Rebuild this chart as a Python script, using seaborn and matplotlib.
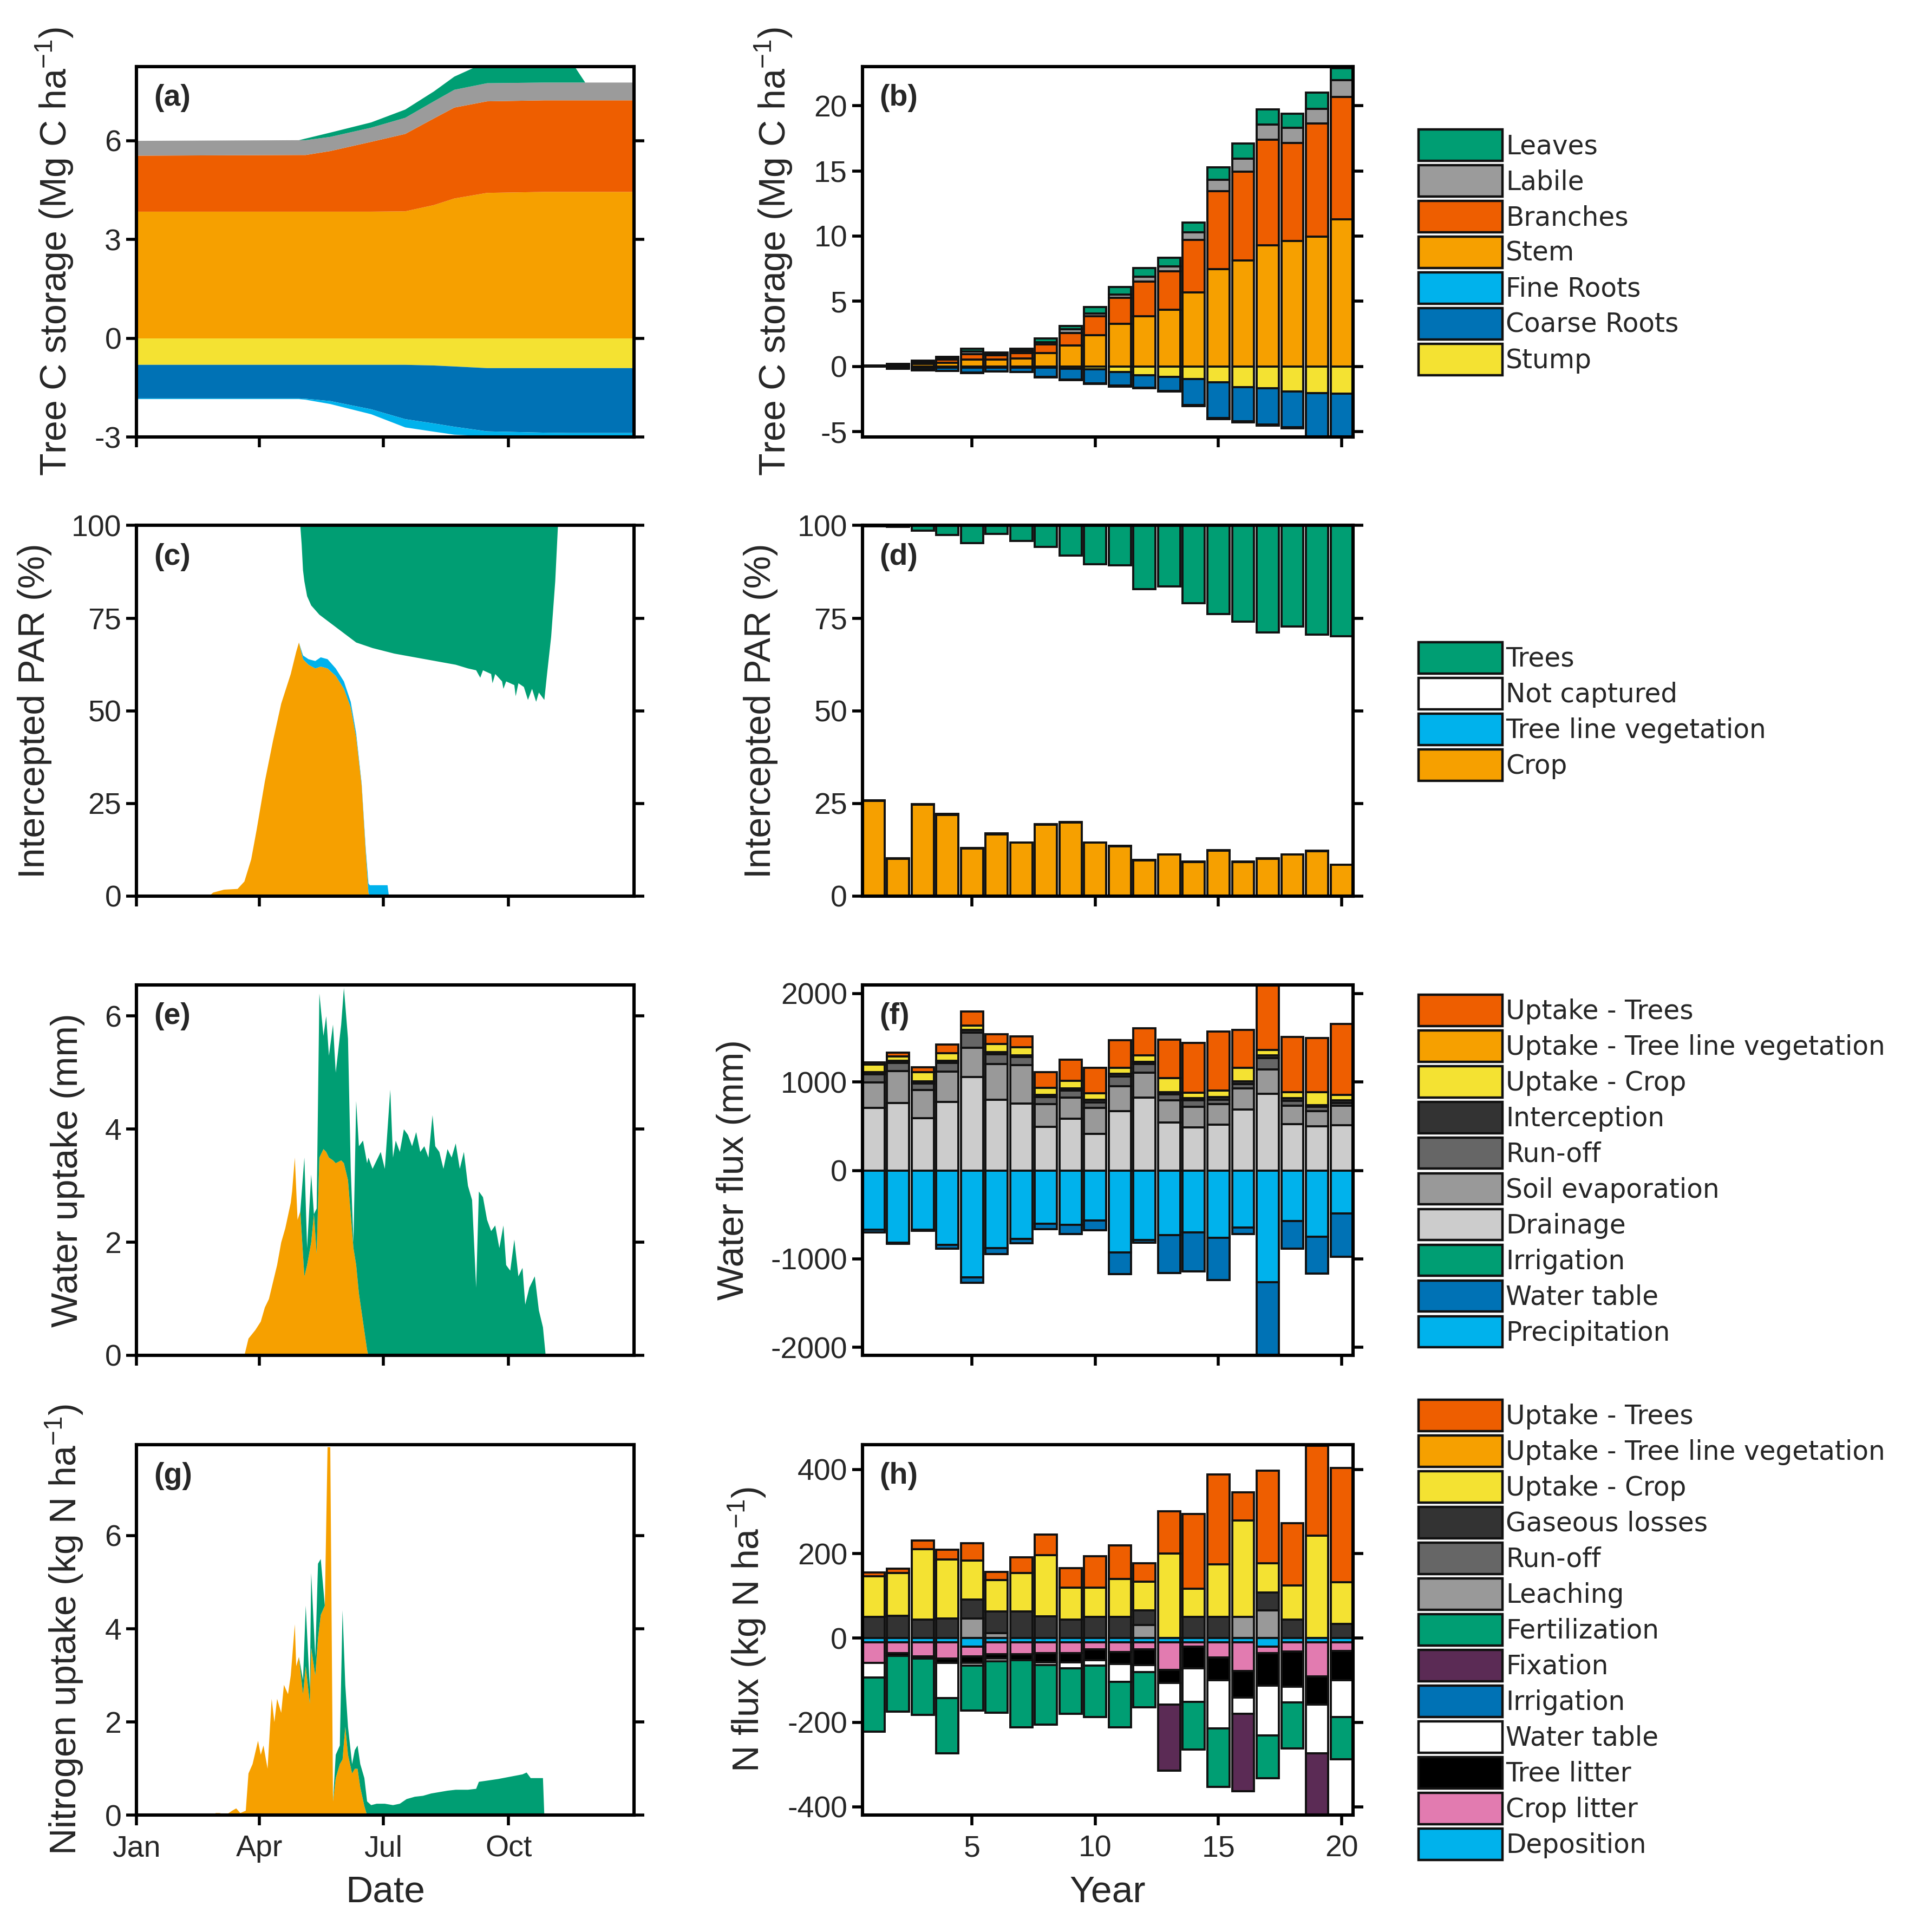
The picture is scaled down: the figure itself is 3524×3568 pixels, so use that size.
import numpy as np
import matplotlib
matplotlib.use('Agg')
import matplotlib.pyplot as plt
from matplotlib.patches import Patch
import seaborn as sns

# colours
GREEN = '#009E73'
LABILE = '#9B9B9B'
VERMIL = '#EE5E00'
ORANGE = '#F6A000'
SKY = '#00B2EC'
BLUE = '#0072B5'
YELLOW = '#F4E232'
DARK1 = '#333333'
DARK2 = '#666666'
MID = '#999999'
LIGHT = '#CCCCCC'
PURPLE = '#5B2B55'
PINK = '#E27BB0'
BLACK = '#000000'
WHITE = '#FFFFFF'
EDGE = '#111111'

# ---------------- (a) daily tree C pools (Mg C/ha)
a_days = [1, 120, 125, 143, 173, 198, 219, 234, 258, 300, 318, 330, 365]
a_stem = [3.85, 3.85, 3.85, 3.85, 3.85, 3.86, 4.05, 4.25, 4.42, 4.45, 4.45, 4.45, 4.45]
a_branches = [1.70, 1.72, 1.72, 1.84, 2.12, 2.35, 2.63, 2.76, 2.78, 2.78, 2.78, 2.78, 2.78]
a_labile = [0.45, 0.45, 0.45, 0.43, 0.43, 0.49, 0.52, 0.54, 0.55, 0.54, 0.54, 0.54, 0.54]
a_leaves = [0.0, 0.0, 0.05, 0.13, 0.16, 0.25, 0.30, 0.40, 0.65, 0.80, 0.75, 0.0, 0.0]
a_stump = [0.8, 0.8, 0.8, 0.8, 0.8, 0.8, 0.82, 0.85, 0.9, 0.9, 0.9, 0.9, 0.9]
a_coarse = [1.02, 1.02, 1.03, 1.10, 1.35, 1.65, 1.76, 1.83, 1.92, 1.96, 1.97, 1.97, 1.97]
a_fine = [0.02, 0.02, 0.03, 0.09, 0.15, 0.25, 0.25, 0.24, 0.15, 0.12, 0.12, 0.12, 0.13]

# ---------------- (c) daily intercepted PAR (%)
c_days = [1, 54, 57, 65, 75, 80, 85, 89, 95, 101, 107, 114, 118, 120, 123,
          127, 132, 136, 141, 147, 153, 158, 162, 166, 169, 171, 172, 185, 186, 365]
c_crop = [0, 0, 1.0, 1.8, 2.0, 4.0, 10, 18, 31, 42, 52, 60, 66, 68.5, 64,
          62.5, 61.5, 62, 61.5, 59.5, 56, 51, 43, 30, 12, 1, 0, 0, 0, 0]
c_treeline = [0, 0, 0, 0, 0, 0, 0, 0, 0, 0, 0, 0, 0, 0, 1.0,
              1.5, 2.0, 2.5, 2.5, 2.0, 2.0, 1.5, 1.0, 0.5, 1.0, 2.5, 3.0, 3.0, 0, 0]
ct_days = [1, 121, 122, 123, 124, 126, 129, 135, 144, 153, 162, 174, 190, 205, 220,
           235, 244, 250, 253, 255, 261, 262, 264, 269, 270, 272, 278, 279, 281, 285,
           288, 291, 294, 296, 300, 302, 305, 308, 310, 365]
ct_trees = [0, 0, 5, 12, 15, 19, 21.5, 24, 26.5, 29, 31.5, 33, 34.5, 35.5, 36.5,
            37.5, 38.5, 39, 41, 39, 40, 42.5, 40, 42, 44, 42, 43, 46, 42.5, 43.5,
            47, 44, 47.5, 45, 47, 40, 30, 15, 0, 0]

# ---------------- (e) daily water uptake (mm)
e_days = [1, 80, 83, 88, 92, 95, 98, 101, 104, 107,
          110, 114, 115, 117, 119, 121, 124, 126, 129, 131,
          133, 135, 138, 140, 142, 145, 147, 151, 153, 156,
          158, 160, 162, 164, 167, 170, 171, 174, 177, 180,
          183, 187, 189, 191, 194, 197, 200, 203, 206, 209,
          212, 215, 218, 220, 223, 226, 229, 232, 235, 238,
          241, 244, 247, 250, 252, 255, 258, 261, 264, 267,
          270, 272, 275, 278, 281, 284, 286, 289, 293, 296,
          299, 301, 365]
e_crop = [0, 0, 0.3, 0.45, 0.6, 0.85, 1.0, 1.3, 1.6, 2.0,
          2.25, 2.7, 2.9, 3.5, 2.4, 2.55, 1.4, 1.6, 2.0, 2.5,
          1.8, 3.5, 3.65, 3.6, 3.5, 3.45, 3.4, 3.45, 3.4, 3.1,
          2.5, 1.9, 1.6, 1.1, 0.6, 0.1, 0, 0, 0, 0,
          0, 0, 0, 0, 0, 0, 0, 0, 0, 0,
          0, 0, 0, 0, 0, 0, 0, 0, 0, 0,
          0, 0, 0, 0, 0, 0, 0, 0, 0, 0,
          0, 0, 0, 0, 0, 0, 0, 0, 0, 0,
          0, 0, 0]
e_trees = [0, 0, 0, 0, 0, 0, 0, 0, 0, 0,
           0, 0, 0, 0, 0, 0, 2.1, 0.3, 1.2, 0.0,
           0.8, 2.9, 2.0, 2.4, 1.8, 2.4, 1.6, 2.4, 3.1, 2.5,
           0.8, 0.1, 2.9, 2.6, 3.2, 3.3, 3.5, 3.3, 3.45, 3.6,
           3.3, 4.7, 3.5, 3.8, 3.6, 4.0, 3.9, 3.7, 3.95, 3.6,
           3.7, 3.5, 4.25, 3.7, 3.6, 3.3, 3.65, 3.5, 3.75, 3.3,
           3.6, 3.0, 2.75, 1.2, 2.9, 2.8, 2.4, 2.2, 2.3, 1.9,
           2.3, 1.6, 1.5, 2.05, 1.4, 1.55, 0.9, 1.2, 1.4, 0.8,
           0.5, 0, 0]

# ---------------- (g) daily nitrogen uptake (kg N/ha)
g_days = [1, 57, 59, 62, 66, 71, 74, 77, 81, 83,
          86, 90, 92, 94, 97, 100, 102, 104, 107, 109,
          112, 114, 117, 118, 120, 123, 125, 128, 129, 132,
          134, 136, 139, 141, 143, 145, 147, 150, 152, 154,
          156, 159, 161, 163, 165, 168, 170, 173, 177, 183,
          189, 194, 199, 205, 211, 217, 223, 229, 235, 244,
          250, 252, 259, 266, 275, 284, 287, 290, 299, 300,
          365]
g_crop = [0, 0, 0.05, 0.05, 0.0, 0.1, 0.15, 0.05, 0.1, 0.9,
          1.1, 1.6, 1.3, 1.5, 1.0, 2.5, 2.0, 2.5, 2.2, 2.8,
          2.6, 3.0, 4.1, 3.2, 3.4, 2.6, 3.2, 2.4, 3.6, 3.0,
          3.8, 4.3, 4.5, 7.9, 7.9, 0.3, 0.8, 1.1, 1.2, 1.9,
          1.3, 0.9, 1.0, 1.0, 0.6, 0.2, 0, 0, 0, 0,
          0, 0, 0, 0, 0, 0, 0, 0, 0, 0,
          0, 0, 0, 0, 0, 0, 0, 0, 0, 0,
          0]
g_trees = [0, 0, 0, 0, 0, 0, 0, 0, 0, 0,
           0, 0, 0, 0, 0, 0, 0, 0, 0, 0,
           0, 0, 0, 0, 0, 0.3, 1.3, 0.3, 1.6, 0.4,
           1.6, 1.2, 0, 0, 0, 0, 0.5, 0.4, 3.2, 0.9,
           0.6, 0.2, 0.4, 0.5, 0.5, 0.6, 0.3, 0.22, 0.25, 0.25,
           0.22, 0.25, 0.35, 0.4, 0.42, 0.47, 0.5, 0.53, 0.55, 0.55,
           0.57, 0.72, 0.75, 0.78, 0.83, 0.88, 0.92, 0.8, 0.8, 0,
           0]

month_days = [1, 91, 182, 274]
month_names = ['Jan', 'Apr', 'Jul', 'Oct']

# ---------------- yearly bars
years = np.arange(1, 21)

# (b) tree C storage
b_stem = [0.05, 0.1, 0.2, 0.3, 0.54, 0.54, 0.64, 1.05, 1.61, 2.41, 3.26, 3.86, 4.37, 5.67, 7.48, 8.13, 9.3, 9.64, 9.96, 11.3]
b_branches = [0.02, 0.05, 0.12, 0.25, 0.41, 0.31, 0.41, 0.64, 0.95, 1.45, 2.01, 2.66, 2.95, 4.03, 5.98, 6.8, 8.08, 7.5, 8.69, 9.36]
b_labile = [0.0, 0.03, 0.06, 0.1, 0.2, 0.14, 0.15, 0.16, 0.3, 0.2, 0.26, 0.36, 0.37, 0.6, 0.87, 1.01, 1.17, 1.17, 1.11, 1.31]
b_leaves = [0.0, 0.02, 0.06, 0.09, 0.2, 0.1, 0.15, 0.3, 0.24, 0.51, 0.55, 0.67, 0.64, 0.75, 0.96, 1.14, 1.17, 1.05, 1.24, 0.91]
b_stump = [0.0, 0.05, 0.1, 0.1, 0.1, 0.1, 0.1, 0.1, 0.15, 0.2, 0.4, 0.66, 0.8, 0.97, 1.21, 1.57, 1.67, 1.93, 2.03, 2.07]
b_coarse = [0.02, 0.11, 0.16, 0.22, 0.36, 0.26, 0.3, 0.7, 0.85, 1.07, 1.07, 0.95, 1.07, 1.97, 2.73, 2.62, 2.76, 2.7, 3.57, 3.53]
b_fine = [0.0, 0.01, 0.02, 0.02, 0.03, 0.03, 0.03, 0.04, 0.05, 0.05, 0.06, 0.06, 0.06, 0.08, 0.1, 0.1, 0.1, 0.1, 0.1, 0.1]

# (d) intercepted PAR
d_crop = [25.7, 10.1, 24.7, 21.9, 12.8, 16.6, 14.4, 19.3, 19.9, 14.4, 13.4, 9.6, 11.2, 9.2, 12.3, 9.2, 10.1, 11.2, 12.1, 8.4]
d_treeline = [0.1, 0.1, 0.1, 0.3, 0.2, 0.3, 0.1, 0.1, 0.1, 0.1, 0.1, 0.1, 0.1, 0.1, 0.1, 0.1, 0.1, 0.1, 0.1, 0.1]
d_trees = [0.2, 0.3, 1.4, 2.5, 4.8, 2.3, 4.1, 5.7, 8.1, 10.4, 10.8, 17.1, 16.5, 20.9, 23.9, 25.9, 28.9, 27.3, 29.4, 29.9]

# (f) water flux (mm)
f_drainage = [709, 762, 590, 777, 1059, 798, 754, 495, 585, 412, 674, 822, 540, 490, 519, 688, 866, 525, 501, 510]
f_soil_evap = [285, 362, 321, 342, 327, 404, 439, 253, 237, 297, 281, 282, 252, 228, 229, 238, 276, 208, 167, 223]
f_runoff = [95, 89, 74, 94, 172, 109, 89, 80, 80, 59, 110, 98, 68, 74, 53, 50, 131, 53, 50, 30]
f_interception = [21, 30, 24, 30, 29, 30, 21, 29, 24, 30, 30, 29, 27, 24, 30, 30, 30, 30, 21, 29]
f_up_crop = [89, 47, 101, 83, 51, 89, 89, 78, 89, 74, 68, 71, 157, 65, 74, 157, 59, 71, 148, 60]
f_up_treeline = [0] * 20
f_up_trees = [23, 42, 59, 98, 157, 110, 127, 178, 237, 291, 312, 306, 437, 564, 665, 424, 838, 623, 611, 807]
f_precip = [668, 816, 668, 840, 1211, 875, 774, 602, 617, 567, 929, 786, 730, 700, 760, 647, 1261, 573, 751, 484]
f_water_table = [30, 14, 17, 45, 59, 69, 51, 60, 104, 109, 243, 30, 430, 442, 480, 74, 939, 311, 415, 489]
f_irrigation = [0] * 20

# (h) N flux (kg N/ha)
h_leaching = [0, 0, 0, 0, 47, 12, 0, 0, 0, 0, 0, 31, 0, 0, 0, 50, 66, 0, 0, 0]
h_runoff = [0] * 20
h_gaseous = [50, 53, 44, 47, 45, 51, 63, 51, 44, 50, 50, 35, 0, 50, 50, 0, 42, 44, 0, 34]
h_up_crop = [97, 101, 167, 139, 92, 75, 91, 146, 76, 69, 90, 68, 200, 67, 125, 229, 69, 81, 243, 99]
h_up_treeline = [0] * 20
h_up_trees = [8, 11, 21, 24, 41, 19, 38, 49, 46, 75, 80, 43, 101, 177, 213, 67, 220, 148, 213, 270]
h_deposition = [10, 10, 10, 10, 20, 10, 10, 10, 10, 10, 10, 10, 10, 10, 10, 10, 20, 10, 10, 10]
h_crop_litter = [49, 26, 33, 39, 23, 28, 28, 26, 26, 17, 23, 17, 65, 11, 36, 68, 16, 22, 81, 20]
h_tree_litter = [0, 6, 6, 10, 16, 11, 14, 22, 22, 26, 29, 37, 32, 51, 54, 63, 77, 84, 67, 70]
h_water_table = [35, 0, 0, 83, 6, 6, 0, 6, 14, 12, 42, 17, 51, 79, 114, 38, 118, 37, 115, 87]
h_fertilization = [128, 132, 133, 131, 107, 122, 160, 141, 107, 122, 108, 83, 0, 114, 139, 0, 101, 109, 0, 101]
h_fixation = [0, 0, 0, 0, 0, 0, 0, 0, 0, 0, 0, 0, 157, 0, 0, 184, 0, 0, 157, 0]
h_irrigation = [0] * 20

# ---------------- theme
sns.set_theme(style='ticks')
plt.rcParams['font.family'] = ['Liberation Sans', 'DejaVu Sans']
plt.rcParams['axes.unicode_minus'] = False
plt.rcParams['mathtext.default'] = 'regular'
plt.rcParams['axes.linewidth'] = 2.2

fig = plt.figure(figsize=(17.62, 17.84), dpi=200)

row_bottoms = [0.7738, 0.5362, 0.2985, 0.0605]
row_h = 0.1918
left_x, left_w = 0.0715, 0.2608
right_x, right_w = 0.452, 0.257

axs = {}
for i, (lt, rt) in enumerate([('a', 'b'), ('c', 'd'), ('e', 'f'), ('g', 'h')]):
    axs[lt] = fig.add_axes([left_x, row_bottoms[i], left_w, row_h])
    axs[rt] = fig.add_axes([right_x, row_bottoms[i], right_w, row_h])


def stack_bars(ax, layers, colors, base=None, sign=1.0):
    bottom = np.zeros(len(years)) if base is None else np.asarray(base, dtype=float)
    for vals, col in zip(layers, colors):
        h = sign * np.asarray(vals, dtype=float)
        sns.barplot(x=years, y=h, bottom=bottom, color=col, saturation=1,
                    native_scale=True, width=0.9, errorbar=None,
                    edgecolor=EDGE, linewidth=1.4, ax=ax)
        bottom = bottom + h
    return bottom


def style(ax, tag, ylabel, yticks, ylim, bottom_row, daily):
    ax.set_ylim(*ylim)
    ax.set_yticks(yticks)
    if daily:
        ax.set_xlim(1, 366)
        ax.set_xticks(month_days)
        ax.set_xticklabels(month_names if bottom_row else [])
    else:
        ax.set_xlim(0.55, 20.45)
        ax.set_xticks([5, 10, 15, 20])
        ax.set_xticklabels(['5', '10', '15', '20'] if bottom_row else [])
    ax.tick_params(axis='y', left=True, right=True, direction='out',
                   length=7, width=2, labelsize=20, pad=3, color='black')
    ax.tick_params(axis='x', bottom=True, top=False, direction='out',
                   length=7, width=2, labelsize=20, pad=6, color='black')
    for s in ax.spines.values():
        s.set_visible(True)
        s.set_linewidth(2.2)
        s.set_color('black')
    ax.grid(False)
    ax.set_xlabel('')
    ax.set_ylabel(ylabel, fontsize=24.5, labelpad=13)
    ax.text(0.035, 0.915, f'({tag})', transform=ax.transAxes, fontsize=20,
            fontweight='bold', ha='left', va='center', zorder=10)


# (a)
ax = axs['a']
ax.stackplot(a_days, a_stem, a_branches, a_labile, a_leaves,
             colors=[ORANGE, VERMIL, LABILE, GREEN], linewidth=0)
ax.stackplot(a_days, -np.array(a_stump), -np.array(a_coarse), -np.array(a_fine),
             colors=[YELLOW, BLUE, SKY], linewidth=0)
style(ax, 'a', 'Tree C storage (Mg C ha$^{-1}$)', [-3, 0, 3, 6], (-3, 8.25), False, True)

# (b)
ax = axs['b']
stack_bars(ax, [b_stem, b_branches, b_labile, b_leaves], [ORANGE, VERMIL, LABILE, GREEN])
stack_bars(ax, [b_stump, b_coarse, b_fine], [YELLOW, BLUE, SKY], sign=-1.0)
style(ax, 'b', 'Tree C storage (Mg C ha$^{-1}$)', [-5, 0, 5, 10, 15, 20], (-5.4, 23), False, False)

# (c)
ax = axs['c']
ax.stackplot(c_days, c_crop, c_treeline, colors=[ORANGE, SKY], linewidth=0)
ax.fill_between(ct_days, 100 - np.array(ct_trees), 100, color=GREEN, linewidth=0)
style(ax, 'c', 'Intercepted PAR (%)', [0, 25, 50, 75, 100], (0, 100), False, True)

# (d)
ax = axs['d']
stack_bars(ax, [d_crop, d_treeline], [ORANGE, SKY])
stack_bars(ax, [d_trees], [GREEN], base=100 - np.array(d_trees))
style(ax, 'd', 'Intercepted PAR (%)', [0, 25, 50, 75, 100], (0, 100), False, False)

# (e)
ax = axs['e']
ax.stackplot(e_days, e_crop, e_trees, colors=[ORANGE, GREEN], linewidth=0)
style(ax, 'e', 'Water uptake (mm)', [0, 2, 4, 6], (0, 6.55), False, True)

# (f)
ax = axs['f']
stack_bars(ax, [f_drainage, f_soil_evap, f_runoff, f_interception, f_up_crop, f_up_treeline, f_up_trees],
           [LIGHT, MID, DARK2, DARK1, YELLOW, ORANGE, VERMIL])
stack_bars(ax, [f_precip, f_water_table, f_irrigation], [SKY, BLUE, GREEN], sign=-1.0)
style(ax, 'f', 'Water flux (mm)', [-2000, -1000, 0, 1000, 2000], (-2090, 2100), False, False)

# (g)
ax = axs['g']
ax.stackplot(g_days, g_crop, g_trees, colors=[ORANGE, GREEN], linewidth=0)
style(ax, 'g', 'Nitrogen uptake (kg N ha$^{-1}$)', [0, 2, 4, 6], (0, 7.95), True, True)
ax.set_xlabel('Date', fontsize=25, labelpad=8)

# (h)
ax = axs['h']
stack_bars(ax, [h_leaching, h_runoff, h_gaseous, h_up_crop, h_up_treeline, h_up_trees],
           [MID, DARK2, DARK1, YELLOW, ORANGE, VERMIL])
stack_bars(ax, [h_deposition, h_crop_litter, h_tree_litter, h_water_table, h_fertilization,
                h_fixation, h_irrigation],
           [SKY, PINK, BLACK, WHITE, GREEN, PURPLE, BLUE], sign=-1.0)
style(ax, 'h', 'N flux (kg N ha$^{-1}$)', [-400, -200, 0, 200, 400], (-420, 459), True, False)
ax.set_xlabel('Year', fontsize=25, labelpad=8)

# ---------------- legends
legend_sets = [
    (0.9330, [('Leaves', GREEN), ('Labile', LABILE), ('Branches', VERMIL), ('Stem', ORANGE),
              ('Fine Roots', SKY), ('Coarse Roots', BLUE), ('Stump', YELLOW)]),
    (0.6676, [('Trees', GREEN), ('Not captured', WHITE), ('Tree line vegetation', SKY),
              ('Crop', ORANGE)]),
    (0.4852, [('Uptake - Trees', VERMIL), ('Uptake - Tree line vegetation', ORANGE),
              ('Uptake - Crop', YELLOW), ('Interception', DARK1), ('Run-off', DARK2),
              ('Soil evaporation', MID), ('Drainage', LIGHT), ('Irrigation', GREEN),
              ('Water table', BLUE), ('Precipitation', SKY)]),
    (0.2755, [('Uptake - Trees', VERMIL), ('Uptake - Tree line vegetation', ORANGE),
              ('Uptake - Crop', YELLOW), ('Gaseous losses', DARK1), ('Run-off', DARK2),
              ('Leaching', MID), ('Fertilization', GREEN), ('Fixation', PURPLE),
              ('Irrigation', BLUE), ('Water table', WHITE), ('Tree litter', BLACK),
              ('Crop litter', PINK), ('Deposition', SKY)]),
]
for ytop, entries in legend_sets:
    handles = [Patch(facecolor=c, edgecolor=EDGE, linewidth=1.6, label=l) for l, c in entries]
    fig.legend(handles=handles, loc='upper left', bbox_to_anchor=(0.7435, ytop),
               bbox_transform=fig.transFigure, frameon=False, borderpad=0,
               borderaxespad=0, handlelength=3.19, handleheight=1.45,
               labelspacing=0.17, handletextpad=0.12,
               prop={'family': 'DejaVu Sans', 'size': 17.5})

fig.savefig('out.png', dpi=200)
